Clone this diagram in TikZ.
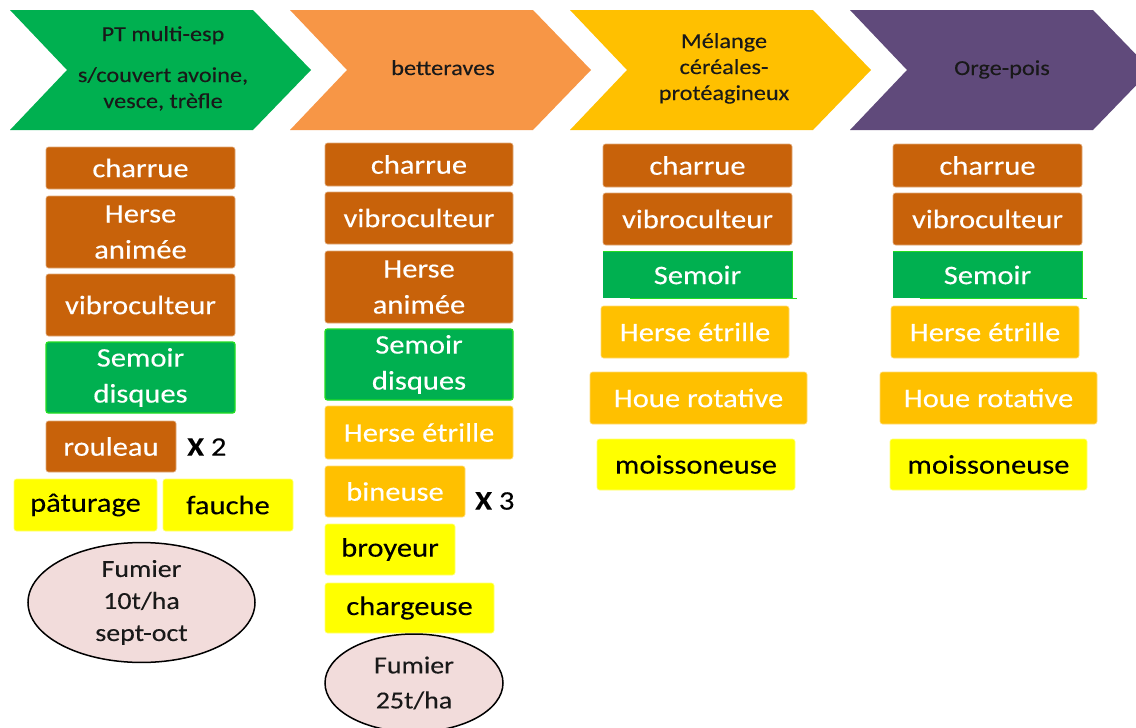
\documentclass[tikz,border=0pt]{standalone}
\usepackage{fontspec}
\setmainfont[FakeStretch=1.14,FakeBold=0.2]{Carlito}
\usetikzlibrary{shapes.geometric,calc}
\definecolor{chgreen}{HTML}{00B050}
\definecolor{chorange}{HTML}{F79646}
\definecolor{chgold}{HTML}{FFC000}
\definecolor{chpurple}{HTML}{604A7B}
\definecolor{brownc}{HTML}{C8620A}
\definecolor{brightgreen}{HTML}{22DD22}
\definecolor{goldc}{HTML}{FFC000}
\definecolor{yelc}{HTML}{FFFF00}
\definecolor{pinkc}{HTML}{F2DCDB}
\tikzset{
  box/.style={rectangle, rounded corners=2.5pt, inner sep=0pt, align=center,
    font=\fontsize{26.8}{36}\selectfont, text=white},
  brownbox/.style={box, fill=brownc, draw=brownc!55!white, line width=0.6pt},
  seedbox/.style={box, fill=chgreen, draw=brightgreen, line width=1.3pt},
  goldbox/.style={box, fill=goldc, draw=goldc!55!white, line width=0.6pt},
  yelbox/.style={box, fill=yelc, draw=yelc!55!white, line width=0.6pt, text=black},
  chevtext/.style={font=\fontsize{21.3}{26}\selectfont, text=black!90, align=center, inner sep=0pt},
  fumier/.style={ellipse, draw=black, line width=1.5pt, fill=pinkc, inner sep=0pt,
    align=center, text=black!90},
  times/.style={font=\fontsize{26.8}{30}\selectfont, text=black, inner sep=0pt}
}
\begin{document}
\begin{tikzpicture}[x=1pt,y=-1pt]
\clip (0,0) rectangle (1136,728);
\fill[white] (0,0) rectangle (1136,728);
% chevrons
\fill[chgreen]  (10,10) -- (253,10) -- (311,70) -- (253,130) -- (10,130) -- (67,70) -- cycle;
\fill[chorange] (290,10) -- (533,10) -- (591,70) -- (533,130) -- (290,130) -- (347,70) -- cycle;
\fill[chgold]   (570,10) -- (813,10) -- (871,70) -- (813,130) -- (570,130) -- (627,70) -- cycle;
\fill[chpurple] (850,10) -- (1093,10) -- (1151,70) -- (1093,130) -- (850,130) -- (907,70) -- cycle;
\node[chevtext, anchor=base] (h1) at (163,108) {PT multi-esp\\[15pt]s/couvert avoine,\\vesce, trèfle};
\node[chevtext, anchor=base] (h2) at (443,75) {betteraves};
\node[chevtext, anchor=base] (h3) at (724,100) {Mélange\\céréales-\\protéagineux};
\node[chevtext, anchor=base] (h4) at (1002,75) {Orge-pois};
% column 1
\node[brownbox, minimum width=189pt, minimum height=42pt] (c1a) at (140.5,168) {charrue};
\node[brownbox, minimum width=189pt, minimum height=72pt] (c1b) at (140.5,232) {Herse\\animée};
\node[brownbox, minimum width=189pt, minimum height=62pt] (c1c) at (140.5,305) {vibroculteur};
\node[seedbox, minimum width=189pt, minimum height=71pt] (c1d) at (140.5,377.5) {Semoir\\disques};
\node[brownbox, minimum width=130pt, minimum height=51pt] (c1e) at (111,446.5) {rouleau};
\node[times, anchor=west] (x2) at (187,447) {\textbf{X} 2};
\node[yelbox, minimum width=143pt, minimum height=52pt] (c1f) at (85.5,505) {pâturage};
\node[yelbox, minimum width=130pt, minimum height=52pt] (c1g) at (228,505) {fauche};
\node[fumier, minimum width=227pt, minimum height=109pt, font=\fontsize{24.5}{32}\selectfont] (f1) at (141.5,602.5) {Fumier\\10t/ha\\sept-oct};
% column 2
\node[brownbox, minimum width=188pt, minimum height=43pt] (c2a) at (419,164.5) {charrue};
\node[brownbox, minimum width=188pt, minimum height=52pt] (c2b) at (419,218) {vibroculteur};
\node[brownbox, minimum width=188pt, minimum height=72pt] (c2c) at (419,287) {Herse\\animée};
\node[seedbox, minimum width=188pt, minimum height=71pt] (c2d) at (419,364.5) {Semoir\\disques};
\node[goldbox, minimum width=188pt, minimum height=53pt] (c2e) at (419,432.5) {Herse étrille};
\node[goldbox, minimum width=140pt, minimum height=51pt] (c2f) at (395,491.5) {bineuse};
\node[times, anchor=west] (x3) at (475,501) {\textbf{X} 3};
\node[yelbox, minimum width=130pt, minimum height=51pt] (c2g) at (390,549.5) {broyeur};
\node[yelbox, minimum width=169pt, minimum height=50pt] (c2h) at (409.5,608) {chargeuse};
\node[fumier, minimum width=178pt, minimum height=98pt, font=\fontsize{24.5}{35}\selectfont] (f2) at (414,683) {Fumier\\25t/ha};
% column 3
\node[brownbox, minimum width=189pt, minimum height=43pt] (c3a) at (697.5,165.5) {charrue};
\node[brownbox, minimum width=189pt, minimum height=52pt] (c3b) at (697.5,219) {vibroculteur};
\node[box, fill=chgreen, rounded corners=0pt, minimum width=189pt, minimum height=46pt] (c3c) at (697.5,275) {Semoir};
\draw[brightgreen, line width=1pt] (c3c.north west) -- (c3c.north east) -- (c3c.south east);
\draw[brightgreen, line width=1.3pt] ($(c3c.south west)+(27,0)$) -- ($(c3c.south east)+(5,0)$);
\node[goldbox, minimum width=188pt, minimum height=52pt] (c3d) at (695,332) {Herse étrille};
\node[goldbox, minimum width=217pt, minimum height=52pt] (c3e) at (698.5,398) {Houe rotative};
\node[yelbox, minimum width=198pt, minimum height=51pt] (c3f) at (696,464.5) {moissoneuse};
% column 4
\node[brownbox, minimum width=189pt, minimum height=43pt] (c4a) at (987.5,165.5) {charrue};
\node[brownbox, minimum width=189pt, minimum height=52pt] (c4b) at (987.5,219) {vibroculteur};
\node[box, fill=chgreen, rounded corners=0pt, minimum width=189pt, minimum height=46pt] (c4c) at (987.5,275) {Semoir};
\draw[brightgreen, line width=1pt] (c4c.north west) -- (c4c.north east) -- (c4c.south east);
\draw[brightgreen, line width=1.3pt] ($(c4c.south west)+(27,0)$) -- ($(c4c.south east)+(5,0)$);
\node[goldbox, minimum width=188pt, minimum height=52pt] (c4d) at (985,332) {Herse étrille};
\node[goldbox, minimum width=217pt, minimum height=52pt] (c4e) at (988.5,398) {Houe rotative};
\node[yelbox, minimum width=197pt, minimum height=51pt] (c4f) at (988.5,464.5) {moissoneuse};
\end{tikzpicture}
\end{document}
